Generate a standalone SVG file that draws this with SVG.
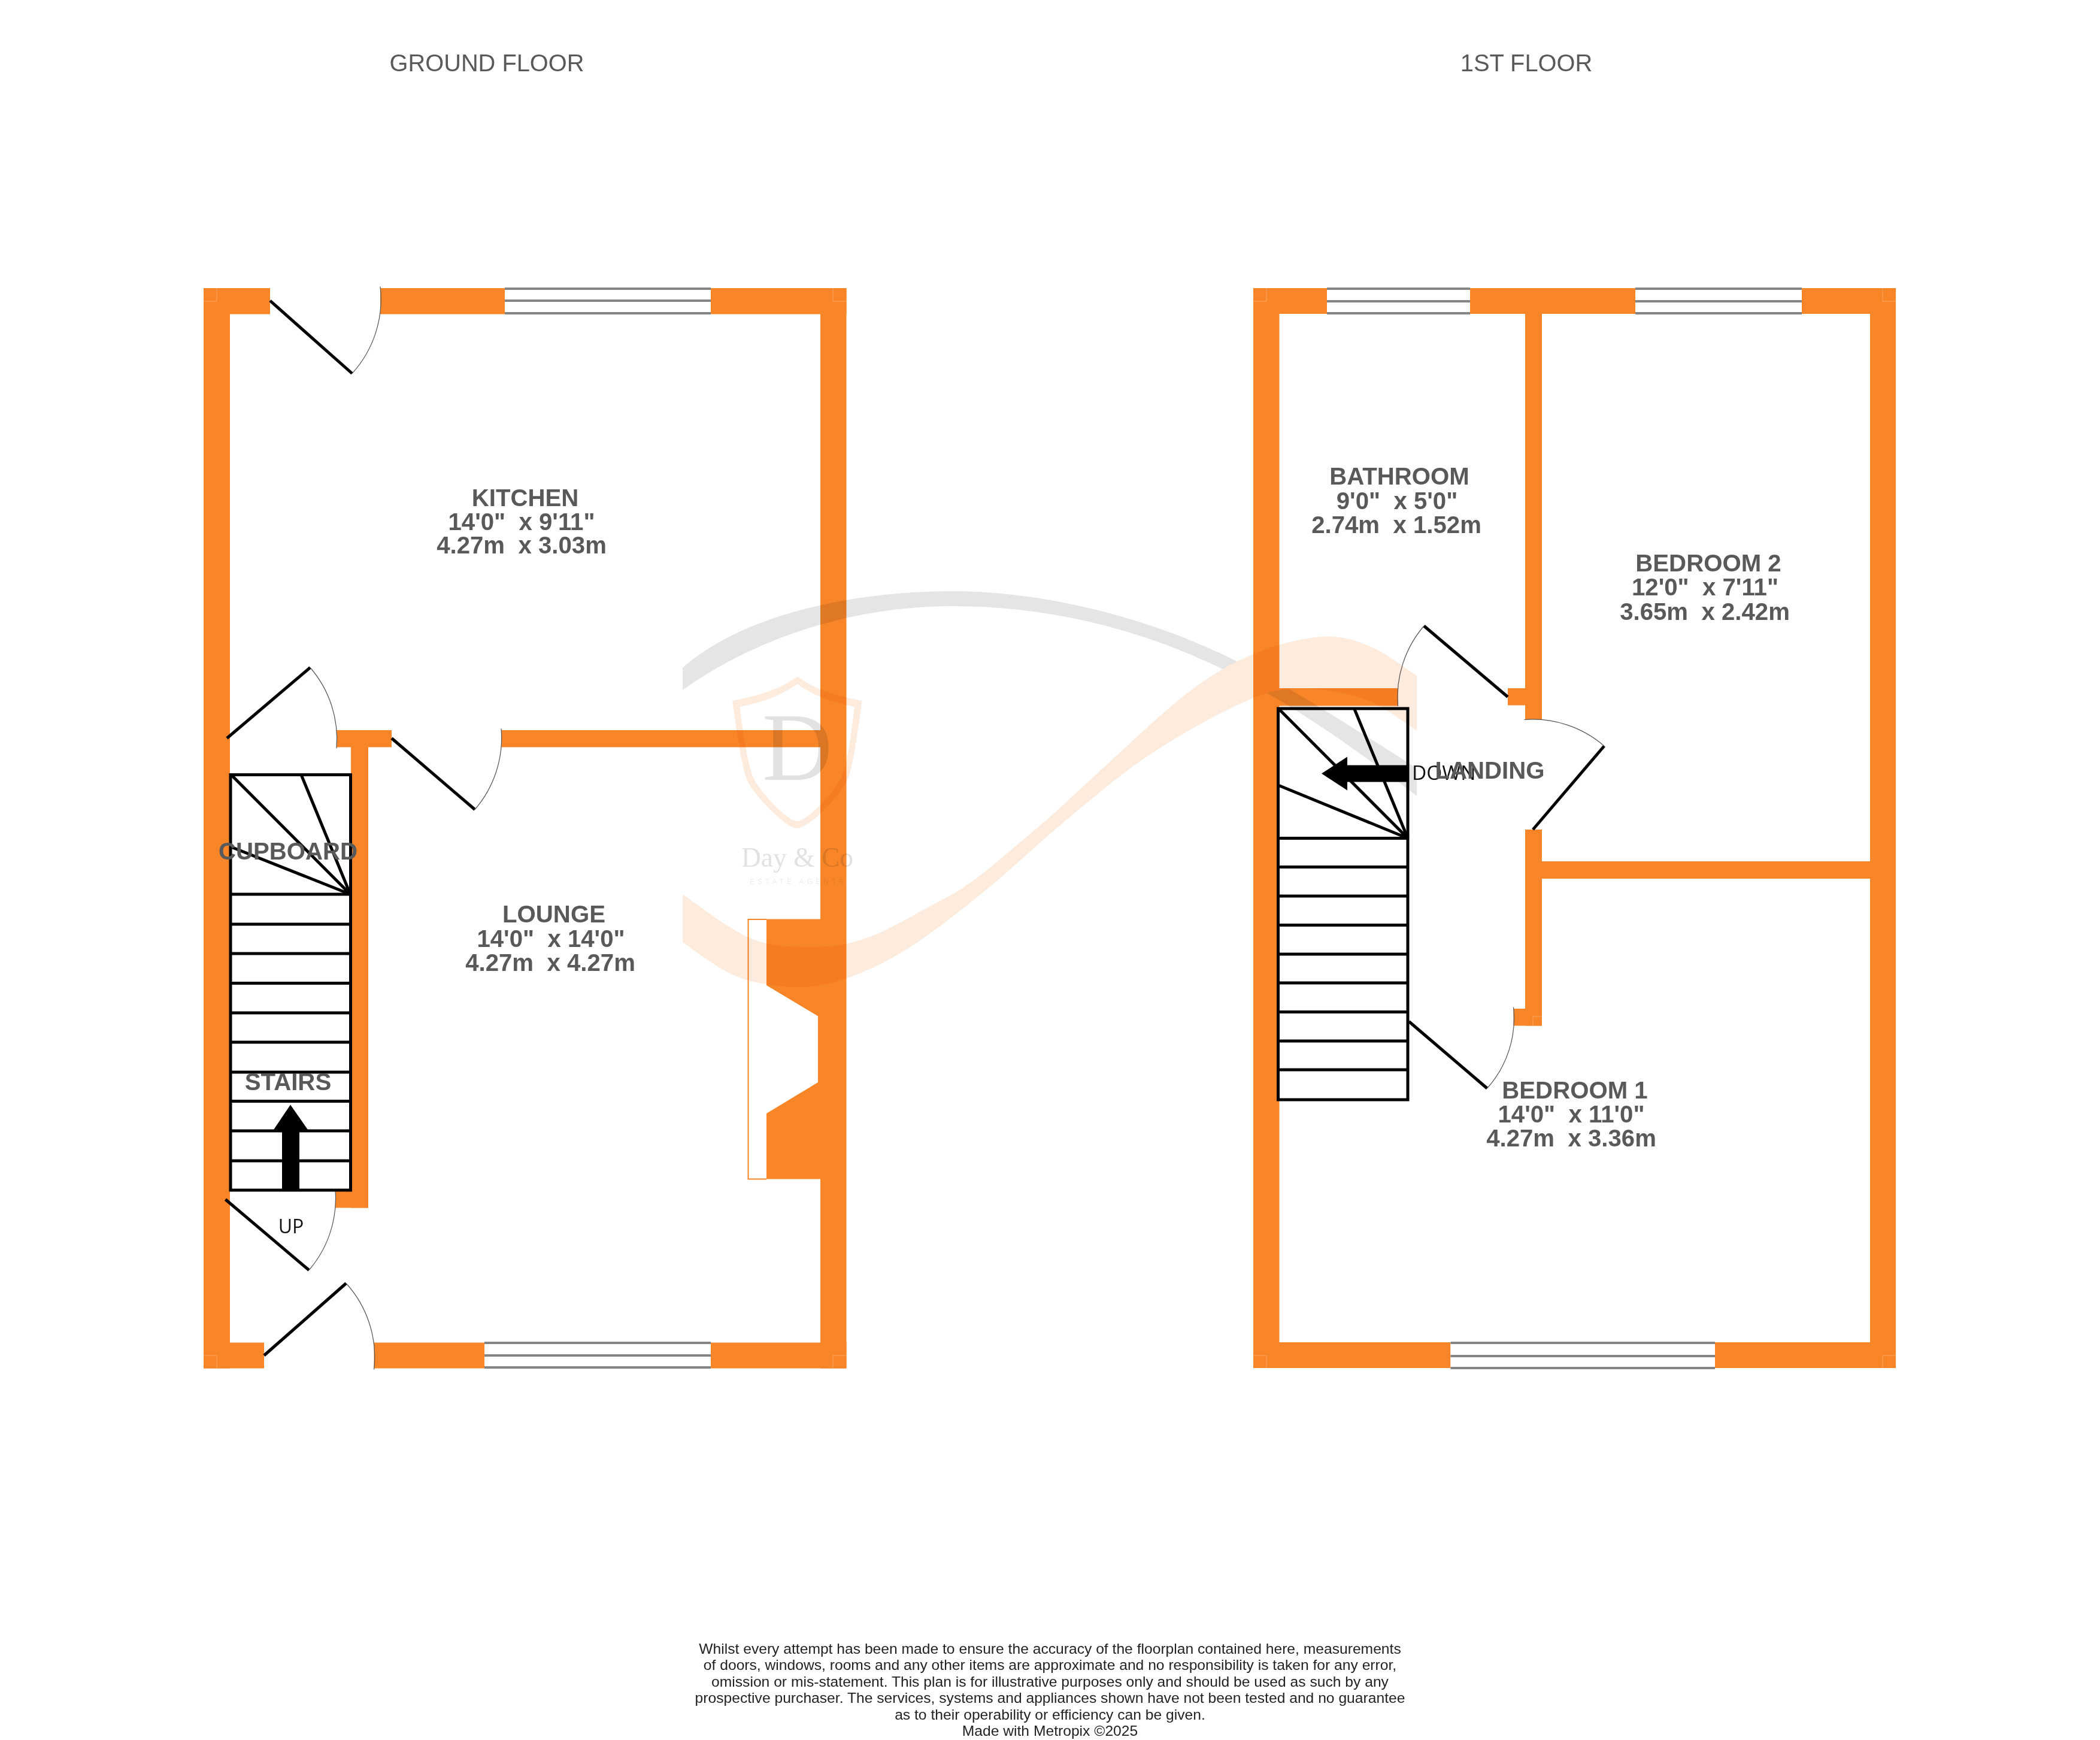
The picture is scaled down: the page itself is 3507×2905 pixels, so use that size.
<svg xmlns="http://www.w3.org/2000/svg" width="3507" height="2905" viewBox="0 0 3507 2905">
<style>
.w{fill:#f88628}
.c{fill:none;stroke:#fba560;stroke-width:1}
.g{stroke:#858585;stroke-width:4;fill:#fff}
.st{fill:none;stroke:#000;stroke-width:5}
.d{stroke:#000;stroke-width:5;fill:none}
.a{stroke:#555;stroke-width:1.2;fill:none}
.l{font:bold 40.2px "Liberation Sans",Arial,sans-serif;fill:#58595b;text-anchor:middle;white-space:pre}
.t{font:39.8px "Liberation Sans",Arial,sans-serif;fill:#58595b;text-anchor:middle}
.s{font:32px "Open Sans",sans-serif;fill:#111}
.n{font:24.65px "Liberation Sans",Arial,sans-serif;fill:#222;text-anchor:middle}
.ws{font-family:"Liberation Serif","Times New Roman",serif;fill:#e2e2e2;text-anchor:middle}
#watermark{mix-blend-mode:multiply}
</style>
<rect width="3507" height="2905" fill="#fff"/>
<text class="t" x="813" y="119">GROUND FLOOR</text>
<text class="t" x="2549" y="119">1ST FLOOR</text>

<g id="ground-floor-walls">
<rect class="w" x="340" y="481" width="44" height="1803.5"/>
<rect class="w" x="1370" y="481" width="43.5" height="1803.5"/>
<rect class="w" x="340" y="481" width="111" height="43.5"/>
<rect class="w" x="635" y="481" width="208" height="43.5"/>
<rect class="w" x="1187" y="481" width="226.500" height="43.5"/>
<rect class="w" x="340" y="2241.500" width="101" height="43"/>
<rect class="w" x="624.500" y="2241.500" width="184.500" height="43"/>
<rect class="w" x="1187" y="2241.500" width="226.500" height="43"/>
<rect class="w" x="562" y="1219" width="92" height="28.500"/>
<rect class="w" x="586" y="1219" width="29" height="797.500"/>
<rect class="w" x="560" y="1987" width="55" height="29.500"/>
<rect class="w" x="837" y="1219" width="533" height="28.500"/>
<path class="w" d="M1370,1534.500H1280V1645L1366,1696.500V1807L1280,1859V1968.500H1370Z"/>
<path d="M1280,1535H1249.500V1968.500H1280" fill="#fff" stroke="#f88628" stroke-width="2"/>
<path class="c" d="M362,481V503H340M1391,481V503H1413.500M362,2284.500V2263H340M1391,2284.500V2263H1413.500"/>
</g>
<g id="ground-floor-windows">
<rect x="843" y="482" width="344" height="41" fill="#fff"/>
<path class="g" d="M843,482H1187M843,502H1187M843,523H1187"/>
<rect x="809" y="2242" width="378" height="41" fill="#fff"/>
<path class="g" d="M809,2242H1187M809,2263H1187M809,2283H1187"/>
</g>
<g id="ground-floor-doors">
<path class="d" d="M451,502L588,623.500"/><path class="a" d="M588,623.500A184,184 0 0 0 635,478.500"/>
<path class="d" d="M379,1232.500L518,1114.500"/><path class="a" d="M518,1114.500A183,183 0 0 1 562,1249.500"/>
<path class="d" d="M654,1232.500L793,1351.500"/><path class="a" d="M793,1351.500A183,183 0 0 0 837,1216.500"/>
<path class="d" d="M376.500,2002.500L516,2120.500"/><path class="a" d="M516,2120.500A183,183 0 0 0 560,1987"/>
<path class="d" d="M441,2263L578,2142.500"/><path class="a" d="M578,2142.500A183,183 0 0 1 624.500,2286.500"/>
</g>
<g id="ground-floor-stairs">
<rect class="st" x="385" y="1293.500" width="200.500" height="693.500"/>
<path class="st" d="M385,1493H585.500M385,1543H585.500M385,1592H585.500M385,1641.500H585.500M385,1691H585.500M385,1740H585.500M385,1790H585.500M385,1838.500H585.500M385,1888H585.500M385,1938H585.500"/>
<path class="st" d="M585,1493L503,1293.500M585,1493L386,1293.500M585,1493L386,1414"/>
<path d="M471,1987V1886H457L485,1844.500L514,1886H500V1987Z" fill="#000"/>
<text class="s" x="486" y="2059" text-anchor="middle">UP</text>
</g>
<g id="kitchen"><text class="l" x="877" y="845">KITCHEN</text><text class="l" x="871" y="885">14'0"  x 9'11"</text><text class="l" x="871" y="924">4.27m  x 3.03m</text></g>
<g id="lounge"><text class="l" x="925" y="1540">LOUNGE</text><text class="l" x="920" y="1581">14'0"  x 14'0"</text><text class="l" x="919" y="1621">4.27m  x 4.27m</text></g>
<g id="cupboard"><text class="l" x="481" y="1435">CUPBOARD</text></g>
<g id="stairs"><text class="l" x="481" y="1820">STAIRS</text></g>

<g id="first-floor-walls">
<rect class="w" x="2093" y="481" width="43.500" height="1803"/>
<rect class="w" x="3123" y="481" width="43" height="1803"/>
<rect class="w" x="2093" y="481" width="123" height="43"/>
<rect class="w" x="2455" y="481" width="276" height="43"/>
<rect class="w" x="3009" y="481" width="157" height="43"/>
<rect class="w" x="2093" y="2241" width="329.500" height="43"/>
<rect class="w" x="2864" y="2241" width="302" height="43"/>
<rect class="w" x="2547" y="481" width="28" height="720"/>
<rect class="w" x="2518" y="1149" width="30" height="28.500"/>
<rect class="w" x="2136" y="1149" width="198.500" height="29.500"/>
<rect class="w" x="2547" y="1385" width="28" height="327.500"/>
<rect class="w" x="2527.500" y="1684" width="47.500" height="28.500"/>
<rect class="w" x="2575" y="1438" width="548" height="29"/>
<path class="c" d="M2115,481V503H2093M3144,481V503H3166M2115,2284V2263H2093M3144,2284V2263H3166M2560,1712V1697H2575"/>
</g>
<g id="first-floor-windows">
<rect x="2216" y="482" width="239" height="41" fill="#fff"/>
<path class="g" d="M2216,482H2455M2216,503H2455M2216,523H2455"/>
<rect x="2731" y="482" width="278" height="41" fill="#fff"/>
<path class="g" d="M2731,482H3009M2731,503H3009M2731,523H3009"/>
<rect x="2422.500" y="2242" width="441.500" height="41" fill="#fff"/>
<path class="g" d="M2422.500,2242H2864M2422.500,2264H2864M2422.500,2284H2864"/>
</g>
<g id="first-floor-doors">
<path class="d" d="M2518,1163.500L2378,1045"/><path class="a" d="M2378,1045A183,183 0 0 0 2334.500,1179"/>
<path class="d" d="M2560,1385L2679,1245.500"/><path class="a" d="M2679,1245.500A183,183 0 0 0 2545.500,1201.500"/>
<path class="d" d="M2353,1705.500L2483.500,1817"/><path class="a" d="M2483.500,1817A175,175 0 0 0 2527.500,1681.500"/>
</g>
<g id="first-floor-stairs">
<rect class="st" x="2134.500" y="1183" width="216.500" height="653"/>
<path class="st" d="M2134.500,1399.500H2351M2134.500,1447.500H2351M2134.500,1496H2351M2134.500,1544.500H2351M2134.500,1593H2351M2134.500,1641H2351M2134.500,1689.500H2351M2134.500,1738H2351M2134.500,1786H2351"/>
<path class="st" d="M2351,1399.500L2262,1184M2351,1399.500L2136,1184M2351,1399.500L2136,1311.500"/>
<path d="M2349,1277.500H2250V1263.500L2207,1291.500L2250,1319.500V1305.500H2349Z" fill="#000"/>
<text class="s" x="2358" y="1302" font-size="33" style="font-size:33.5px">DOWN</text>
</g>
<g id="bathroom"><text class="l" x="2337" y="809">BATHROOM</text><text class="l" x="2333" y="850">9'0"  x 5'0"</text><text class="l" x="2332" y="890">2.74m  x 1.52m</text></g>
<g id="bedroom-2"><text class="l" x="2853" y="954">BEDROOM 2</text><text class="l" x="2847.500" y="994">12'0"  x 7'11"</text><text class="l" x="2847" y="1035">3.65m  x 2.42m</text></g>
<g id="landing"><text class="l" x="2488" y="1300">LANDING</text></g>
<g id="bedroom-1"><text class="l" x="2630" y="1834">BEDROOM 1</text><text class="l" x="2624" y="1874">14'0"  x 11'0"</text><text class="l" x="2624" y="1914">4.27m  x 3.36m</text></g>

<g id="disclaimer">
<text class="n" x="1753.500" y="2761">Whilst every attempt has been made to ensure the accuracy of the floorplan contained here, measurements</text>
<text class="n" x="1753.500" y="2788">of doors, windows, rooms and any other items are approximate and no responsibility is taken for any error,</text>
<text class="n" x="1753.500" y="2815.500">omission or mis-statement. This plan is for illustrative purposes only and should be used as such by any</text>
<text class="n" x="1753.500" y="2843">prospective purchaser. The services, systems and appliances shown have not been tested and no guarantee</text>
<text class="n" x="1753.500" y="2870.500">as to their operability or efficiency can be given.</text>
<text class="n" x="1753.500" y="2898">Made with Metropix ©2025</text>
</g>

<g id="watermark">
<path fill="#e5e5e5" d="M1140,1115C1230,1035 1400,987 1591,987C1750,987 1930,1035 2067,1105L2149,1148C2220,1190 2300,1240 2366,1283L2366,1329C2290,1270 2200,1205 2114,1156C1960,1065 1780,1012 1591,1012C1400,1012 1240,1080 1140,1152Z"/>
<path fill="#fdebdd" d="M1140,1493C1158,1505 1215,1550 1250,1565C1285,1580 1318,1581 1351,1581C1384,1581 1411,1579 1450,1565C1489,1551 1538,1520 1583,1497C1628,1474 1672,1432 1717,1395C1762,1358 1806,1315 1850,1275C1894,1235 1943,1188 1983,1157C2023,1126 2055,1108 2093,1092C2131,1076 2175,1065 2208,1063C2241,1061 2264,1069 2290,1080C2316,1091 2353,1120 2366,1128L2366,1220C2353,1212 2316,1183 2290,1172C2264,1161 2238,1155 2212,1152C2186,1149 2164,1147 2137,1152C2110,1157 2087,1167 2050,1185C2013,1203 1962,1232 1917,1262C1872,1292 1828,1330 1783,1367C1738,1404 1694,1447 1650,1483C1606,1519 1557,1558 1517,1583C1477,1608 1444,1623 1412,1634C1380,1645 1355,1649 1325,1648C1295,1647 1261,1642 1230,1630C1199,1618 1155,1583 1140,1573Z"/>
<path fill="#fdebdd" fill-rule="evenodd" d="M1331.500,1129.500C1295,1155 1262,1162 1223,1170C1233,1240 1240,1290 1251,1309C1270,1340 1315,1383 1331.500,1383C1348,1383 1393,1340 1412,1309C1423,1290 1430,1240 1439.500,1170C1400,1162 1368,1155 1331.500,1129.500ZM1331.500,1142C1298,1165 1270,1173 1235.500,1180C1243,1240 1250,1285 1261,1304C1280,1335 1318,1371 1331.500,1371C1345,1371 1383,1335 1401.500,1304C1413,1285 1420,1240 1427,1180C1393,1173 1365,1165 1331.500,1142Z"/>
<text class="ws" x="1331.500" y="1302" font-size="162">D</text>
<text class="ws" x="1331.500" y="1447" font-size="45.500">Day &amp; Co</text>
<text x="1330.500" y="1476" font-family="Liberation Sans,Arial,sans-serif" font-size="12" fill="#ededed" text-anchor="middle" textLength="157" lengthAdjust="spacing">ESTATE AGENTS</text>
</g>
</svg>
